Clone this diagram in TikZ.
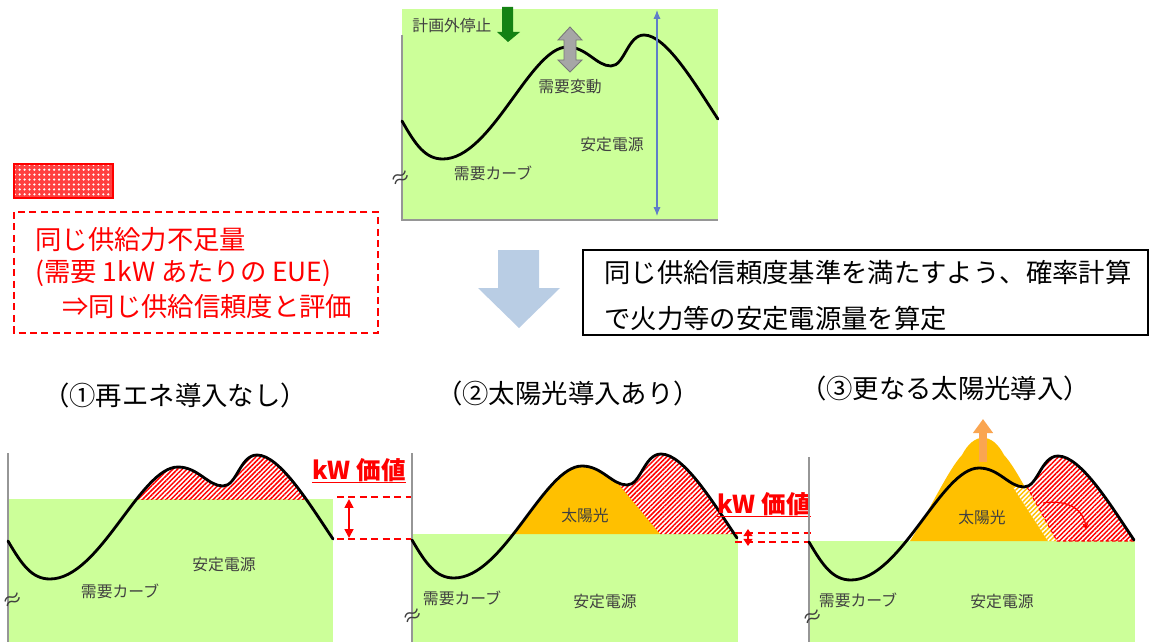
\documentclass[tikz,border=0pt]{standalone}
\usepackage{fontspec}
\setmainfont{Noto Sans CJK JP}
\usetikzlibrary{arrows.meta,patterns.meta}

\definecolor{hellgruen}{RGB}{204,255,153}
\definecolor{sonne}{RGB}{255,192,0}
\definecolor{pfeilblau}{RGB}{185,205,228}
\definecolor{achsgrau}{RGB}{150,150,150}
\definecolor{textgrau}{RGB}{64,64,64}
\definecolor{linienblau}{RGB}{95,125,200}
\definecolor{dunkelgruen}{RGB}{20,130,20}
\definecolor{hellorange}{RGB}{250,165,80}
\definecolor{graufuell}{RGB}{166,166,166}
\definecolor{graurand}{RGB}{120,120,120}

% Nachfragekurve (Pixelkoordinaten von Fall 1)
\newcommand{\nachfragekurve}{(8,541) .. controls (22,565) and (32,579) .. (50,579)
	.. controls (100,579) and (140,467) .. (178,467)
	.. controls (198,467) and (208,486) .. (223,486)
	.. controls (237,486) and (240,455) .. (257,455)
	.. controls (280,455) and (310,505) .. (333,539)}

\tikzset{
	kurve/.style={draw=black, line width=1.6pt, line cap=round},
	achse/.style={draw=achsgrau, line width=0.6pt},
	feld/.style={fill=hellgruen},
	schraffur/.style={pattern={Lines[angle=45,distance=1.9pt,line width=0.85pt]}, pattern color=red},
	klein/.style={text=textgrau, font=\fontsize{9}{10}\selectfont, inner sep=0pt},
	gross/.style={font=\fontsize{15}{18}\selectfont, inner sep=0pt},
	kwwert/.style={text=red, font=\fontsize{14}{15}\selectfont\bfseries, inner sep=0pt, anchor=base},
	rotstrich/.style={draw=red, line width=0.9pt, dash pattern=on 4pt off 2.5pt},
	welle/.style={text=textgrau, font=\fontsize{12}{12}\selectfont, inner sep=0pt, rotate=25},
}

\begin{document}
\begin{tikzpicture}[x=0.02cm, y=-0.02cm]
	\useasboundingbox (0,0) rectangle (1153,642);

	% Ausgangslage oben
	\fill[feld] (402,9) rectangle (718,220);
	\draw[achse] (402,35) -- (402,220) -- (718,220);
	\draw[kurve, shift={(402,-420)}, xscale=0.972, shift={(-8,0)}] \nachfragekurve;
	\node[klein] (ausfall) at (452,25) {計画外停止};
	\fill[dunkelgruen] (502,7) -- (513,7) -- (513,32) -- (520,32) -- (508,42) -- (497,32)
	-- (502,32) -- cycle;
	\filldraw[fill=graufuell, draw=graurand, line width=0.5pt] (570,27) -- (582,40) -- (576,40)
	-- (576,60) -- (582,60) -- (570,72) -- (558,60) -- (564,60) -- (564,40) -- (558,40) -- cycle;
	\node[klein] (schwankung) at (570,87) {需要変動};
	\coordinate (stabiloben) at (657,10);
	\coordinate (stabilunten) at (657,216);
	\draw[linienblau, line width=0.6pt, {Latex[length=5pt,width=4pt]}-{Latex[length=5pt,width=4pt]}]
	(stabiloben) -- (stabilunten);
	\node[klein] (stabil0) at (612,145) {安定電源};
	\node[klein] (kurve0) at (493,173) {需要カーブ};
	\node[welle] (welle0) at (401,179) {≈};

	% Legende
	\fill[red!75] (14,164) rectangle (113,198);
	\fill[pattern={Dots[distance=2.8pt,radius=0.7pt]}, pattern color=white] (14,164) rectangle
	(113,198);
	\draw[red, line width=0.6pt] (14,164) rectangle (113,198);
	\draw[rotstrich] (14,212) rectangle (378,333);
	\node[gross, text=red, anchor=west] (leg1) at (35,240) {同じ供給力不足量};
	\node[gross, text=red, anchor=west] (leg2) at (35,273) {(需要 1kW あたりの EUE)};
	\node[gross, text=red, anchor=west] (leg3) at (62,307) {⇒同じ供給信頼度と評価};

	% Pfeil nach unten
	\fill[pfeilblau] (498,250) -- (539,250) -- (539,288) -- (560,288) -- (519,328) -- (478,288)
	-- (498,288) -- cycle;

	% Kasten rechts
	\draw[black, line width=0.8pt] (583,250) rectangle (1148,335);
	\node[gross, anchor=west] (text1) at (604,272) {同じ供給信頼度基準を満たすよう、確率計算};
	\node[gross, anchor=west] (text2) at (604,318) {で火力等の安定電源量を算定};

	% Titel
	\node[gross] (titel1) at (175,395) {（①再エネ導入なし）};
	\node[gross] (titel2) at (568,393) {（②太陽光導入あり）};
	\node[gross] (titel3) at (945,388) {（③更なる太陽光導入）};

	% Fall 1
	\fill[feld] (8,499) rectangle (333,642);
	\begin{scope}
		\clip \nachfragekurve -- (333,642) -- (8,642) -- cycle;
		\fill[schraffur] (8,440) rectangle (333,499);
	\end{scope}
	\draw[achse] (8,453) -- (8,642);
	\draw[kurve] \nachfragekurve;
	\node[klein] (stabil1) at (224,565) {安定電源};
	\node[klein] (kurve1) at (120,591) {需要カーブ};
	\node[welle] (welle1) at (13,601) {≈};
	\node[kwwert] (kw1) at (359,479) {kW 価値};
	\draw[red, line width=1.1pt] ([yshift=-2pt]kw1.base west) -- ([yshift=-2pt]kw1.base east);
	\draw[rotstrich] (337,497) -- (415,497);
	\draw[rotstrich] (337,539) -- (415,539);
	\coordinate (kw1oben) at (349,499);
	\coordinate (kw1unten) at (349,538);
	\draw[red, line width=1pt, {Triangle[length=5pt,width=5pt]}-{Triangle[length=5pt,width=5pt]}]
	(kw1oben) -- (kw1unten);

	% Fall 2
	\fill[feld] (412,534) rectangle (738,642);
	\begin{scope}
		\clip[shift={(404,-1)}] \nachfragekurve -- (333,642) -- (8,642) -- cycle;
		\fill[sonne] (412,440) -- (582,440) -- (660,534) -- (412,534) -- cycle;
		\fill[schraffur] (582,440) -- (760,440) -- (760,534) -- (660,534) -- cycle;
	\end{scope}
	\draw[achse] (412,453) -- (412,642);
	\draw[kurve, shift={(404,-1)}] \nachfragekurve;
	\node[klein] (sonne2) at (585,516) {太陽光};
	\node[klein] (kurve2) at (462,598) {需要カーブ};
	\node[klein] (stabil2) at (605,602) {安定電源};
	\node[welle] (welle2) at (413,617) {≈};
	\node[kwwert] (kw2) at (764,513) {kW 価値};
	\draw[red, line width=1.1pt] ([yshift=-2pt]kw2.base west) -- ([yshift=-2pt]kw2.base east);
	\draw[rotstrich] (735,533) -- (813,533);
	\draw[rotstrich] (735,542) -- (813,542);
	\coordinate (kw2oben) at (748,529);
	\coordinate (kw2unten) at (748,546);
	\draw[red, line width=1pt, {Triangle[length=4pt,width=5pt]}-{Triangle[length=4pt,width=5pt]}]
	(kw2oben) -- (kw2unten);

	% Fall 3
	\fill[feld] (809,541) rectangle (1135,642);
	\fill[sonne] (910,541) .. controls (930,510) and (948,470) .. (962,455)
	.. controls (974,432) and (992,432) .. (1004,455)
	.. controls (1018,470) and (1036,510) .. (1055,541) -- cycle;
	\begin{scope}
		\clip[shift={(801,1)}] \nachfragekurve -- (333,642) -- (8,642) -- cycle;
		\fill[schraffur] (1001,440) -- (1160,440) -- (1160,541) -- (1057,541) -- cycle;
	\end{scope}
	\fill[white] (1013,487) -- (1027,487) -- (1057,541) -- (1048,541) -- cycle;
	\fill[pattern={Lines[angle=45,distance=1.9pt,line width=0.85pt]}, pattern color=sonne]
	(1013,487) -- (1027,487) -- (1057,541) -- (1048,541) -- cycle;
	\draw[red, line width=0.6pt, dash pattern=on 2pt off 1.5pt] (1027,487) -- (1057,541)
	-- (1135,541);
	\draw[achse] (809,457) -- (809,642);
	\draw[kurve, shift={(801,1)}] \nachfragekurve;
	\coordinate (sonnefuss) at (983,462);
	\coordinate (sonnespitze) at (983,419);
	\draw[hellorange, line width=4pt, -{Triangle[length=8pt,width=11pt]}] (sonnefuss) --
	(sonnespitze);
	\coordinate (umleitungA) at (1043,503);
	\coordinate (umleitungB) at (1086,530);
	\draw[red, line width=0.7pt, -{Stealth[length=4pt,width=3.5pt]}] (umleitungA) .. controls
	(1068,499) and (1084,510) .. (umleitungB);
	\node[klein] (sonne3) at (982,518) {太陽光};
	\node[klein] (kurve3) at (858,600) {需要カーブ};
	\node[klein] (stabil3) at (1002,602) {安定電源};
	\node[welle] (welle3) at (813,618) {≈};
\end{tikzpicture}
\end{document}
